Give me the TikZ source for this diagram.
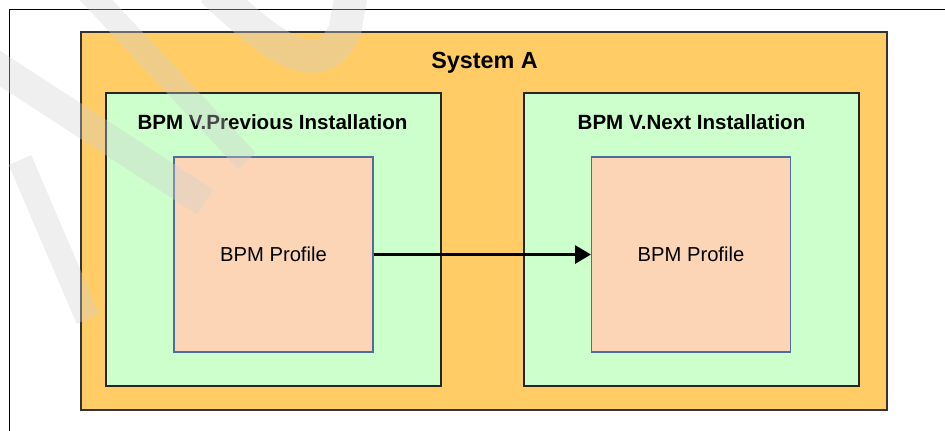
\documentclass[tikz,border=0pt]{standalone}
\usepackage{fontspec}
\setmainfont{Liberation Sans}
\usetikzlibrary{arrows.meta}

\definecolor{sysorange}{HTML}{FFCC66}
\definecolor{instgreen}{HTML}{CCFFCC}
\definecolor{profpeach}{HTML}{FBD5B5}
\definecolor{profedge}{HTML}{4F6D9A}
\definecolor{wmgray}{HTML}{D1D1D1}

\tikzset{
  sysbox/.style={draw=black!80, line width=0.8pt, fill=sysorange, inner sep=0pt,
                 minimum width=16.12cm, minimum height=7.56cm},
  instbox/.style={draw=black!85, line width=0.8pt, fill=instgreen, inner sep=0pt,
                  minimum width=6.7cm, minimum height=5.86cm},
  profbox/.style={draw=profedge, line width=0.6pt, fill=profpeach, inner sep=0pt,
                  minimum width=3.98cm, minimum height=3.9cm,
                  font=\fontsize{11.5}{13}\selectfont},
  title/.style={font=\bfseries\fontsize{11.7}{13}\selectfont, inner sep=0pt},
  migrate/.style={line width=2.1pt, -{Triangle[length=9pt, width=10pt]}},
  watermark/.style={wmgray, opacity=0.35, line cap=butt}
}

\begin{document}
\begin{tikzpicture}[x=0.02cm, y=-0.02cm]
        \useasboundingbox (0,0) rectangle (945,430);
        \draw[line width=0.75pt] (9.5,440) |- (955,9.5);

        \node[sysbox] (sysA) at (484,221) {};
        \node[title, font=\bfseries\fontsize{13.3}{15}\selectfont] (sysA title) at (484.5,63) {System A};

        \node[instbox] (prev) at (273.5,239.5) {};
        \node[instbox] (next) at (691.5,239.5) {};
        \node[title] (prev title) at (272.5,122) {BPM V.Previous Installation};
        \node[title] (next title) at (691.5,122) {BPM V.Next Installation};

        \node[profbox] (prev profile) at (273.5,254.5) {BPM Profile};
        \node[profbox] (next profile) at (691,254.5) {BPM Profile};

        \draw[migrate] (prev profile) -- (next profile);

        % draft watermark
        \draw[watermark, line width=13.6pt] (82,-15) -- (247,161);
        \draw[watermark, line width=17pt] (-10,62) -- (205,202);
        \draw[watermark, line width=14pt] (20,160) -- (88,319);
        \draw[watermark, line width=18.7pt] (212,-10) .. controls (270,45) and (320,85) .. (345,30) -- (352,-10);
    \end{tikzpicture}
\end{document}
